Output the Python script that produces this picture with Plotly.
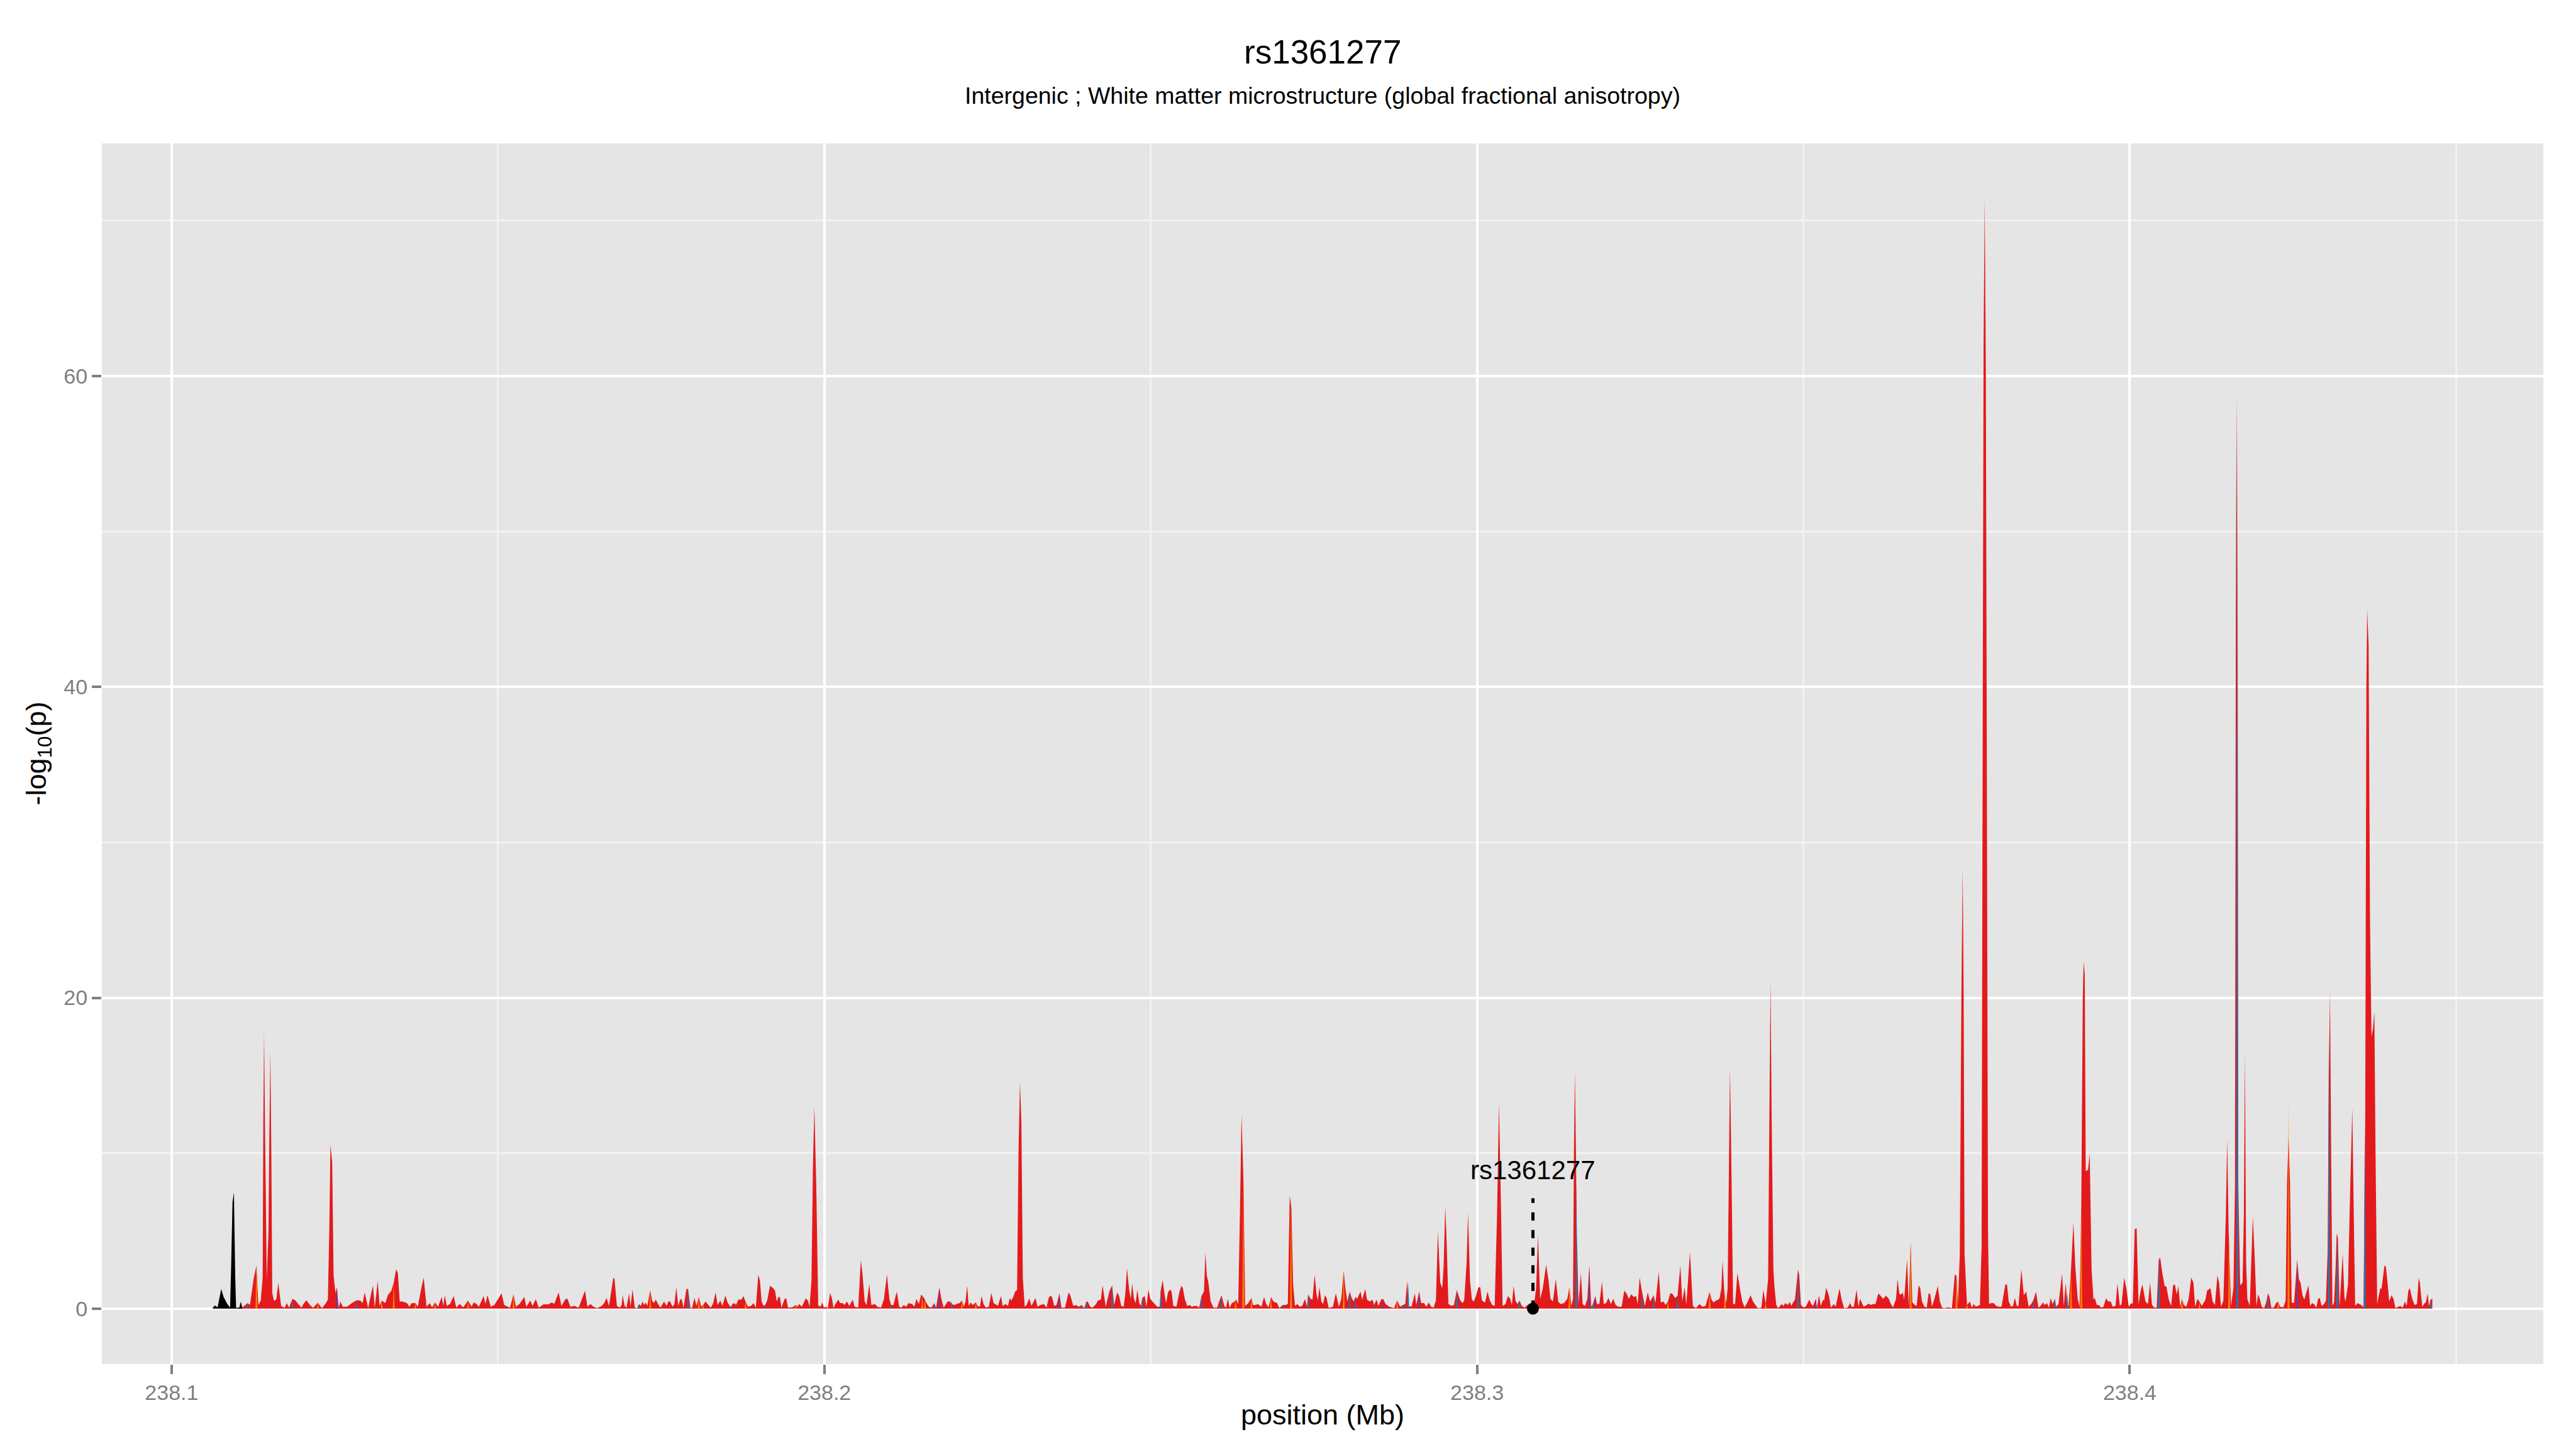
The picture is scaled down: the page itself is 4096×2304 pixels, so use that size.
import plotly.graph_objects as go

title_text = "rs1361277"
subtitle_text = "Intergenic ; White matter microstructure (global fractional anisotropy)"
x_title = "position (Mb)"
y_title = "-log<sub>10</sub>(p)"

x_ticks = [238.1, 238.2, 238.3, 238.4]
x_tick_labels = ["238.1", "238.2", "238.3", "238.4"]
x_minor = [238.15, 238.25, 238.35, 238.45]
y_ticks = [0, 20, 40, 60]
y_tick_labels = ["0", "20", "40", "60"]
y_minor = [10, 30, 50, 70]

snp_name = "rs1361277"
snp_pos = 238.30856
snp_label_y = 8.9
snp_line_top = 7.1

# (position Mb, -log10 p)
black_points = [
    (238.10632, 0.06), (238.10661, 0.20), (238.10705, 0.08), (238.10760, 1.27), (238.10797, 0.75),
    (238.10852, 0.30), (238.10896, 0.06), (238.10911, 2.50), (238.10933, 6.85), (238.10955, 7.48),
    (238.10975, 2.00), (238.10988, 0.05), (238.11036, 0.05), (238.11061, 0.46), (238.11083, 0.02),
]

red_points = [
    (238.11000, 0.05), (238.11091, 0.10), (238.11164, 0.35), (238.11201, 0.23), (238.11256, 1.90),
    (238.11300, 2.76), (238.11329, 0.23), (238.11366, 0.52), (238.11395, 2.00), (238.11405, 12.0),
    (238.11417, 17.8), (238.11430, 12.0), (238.11458, 1.84), (238.11484, 5.00), (238.11500, 12.0),
    (238.11513, 16.5), (238.11528, 10.0), (238.11542, 1.00), (238.11568, 0.50), (238.11605, 0.60),
    (238.11634, 1.67), (238.11678, 0.17), (238.11733, 0.05), (238.11763, 0.35), (238.11799, 0.06),
    (238.11851, 0.63), (238.11898, 0.52), (238.11953, 0.23), (238.11990, 0.06), (238.12020, 0.29),
    (238.12064, 0.54), (238.12119, 0.23), (238.12166, 0.05), (238.12240, 0.38), (238.12302, 0.03),
    (238.12357, 0.30), (238.12394, 0.58), (238.12416, 5.00), (238.12434, 10.54), (238.12460, 9.40),
    (238.12482, 2.13), (238.12511, 1.00), (238.12533, 1.38), (238.12559, 0.05), (238.12585, 0.46),
    (238.12622, 0.12), (238.12688, 0.12), (238.12761, 0.35), (238.12834, 0.54), (238.12890, 0.52),
    (238.12926, 0.35), (238.12959, 1.04), (238.13011, 0.03), (238.13084, 1.50), (238.13113, 0.06),
    (238.13158, 1.78), (238.13187, 0.17), (238.13220, 0.52), (238.13275, 0.35), (238.13312, 0.86),
    (238.13367, 1.15), (238.13403, 1.67), (238.13440, 2.53), (238.13466, 2.30), (238.13495, 0.46),
    (238.13539, 0.46), (238.13605, 0.35), (238.13642, 0.12), (238.13679, 0.35), (238.13734, 0.35),
    (238.13771, 0.12), (238.13826, 1.32), (238.13862, 2.00), (238.13906, 0.12), (238.13954, 0.35),
    (238.13991, 0.08), (238.14035, 0.40), (238.14083, 0.12), (238.14138, 0.75), (238.14163, 0.17),
    (238.14185, 0.86), (238.14215, 0.17), (238.14266, 0.30), (238.14321, 0.81), (238.14362, 0.06),
    (238.14413, 0.30), (238.14468, 0.08), (238.14542, 0.52), (238.14597, 0.12), (238.14626, 0.40),
    (238.14670, 0.30), (238.14707, 0.12), (238.14780, 0.81), (238.14809, 0.30), (238.14839, 0.86),
    (238.14890, 0.12), (238.14945, 0.23), (238.15055, 0.98), (238.15096, 0.23), (238.15184, 0.05),
    (238.15239, 0.92), (238.15276, 0.12), (238.15331, 0.30), (238.15404, 0.75), (238.15434, 0.12),
    (238.15496, 0.52), (238.15529, 0.17), (238.15580, 0.61), (238.15624, 0.06), (238.15698, 0.27),
    (238.15771, 0.27), (238.15826, 0.40), (238.15863, 0.30), (238.15929, 1.04), (238.15973, 0.17),
    (238.16036, 0.63), (238.16065, 0.63), (238.16109, 0.12), (238.16175, 0.17), (238.16230, 0.06),
    (238.16242, 0.12), (238.16334, 1.15), (238.16371, 0.12), (238.16418, 0.29), (238.16462, 0.12),
    (238.16517, 0.03), (238.16591, 0.17), (238.16628, 0.35), (238.16664, 0.69), (238.16701, 0.17),
    (238.16767, 1.98), (238.16785, 1.92), (238.16822, 0.17), (238.16866, 0.06), (238.16895, 0.23),
    (238.16910, 0.86), (238.16940, 0.17), (238.16969, 0.06), (238.17009, 0.98), (238.17031, 0.12),
    (238.17061, 1.24), (238.17097, 0.06), (238.17134, 0.03), (238.17160, 0.29), (238.17189, 0.17),
    (238.17215, 0.46), (238.17241, 0.23), (238.17263, 0.40), (238.17288, 0.17), (238.17332, 1.17),
    (238.17362, 0.52), (238.17387, 0.35), (238.17417, 0.58), (238.17453, 0.29), (238.17490, 0.06),
    (238.17545, 0.46), (238.17582, 0.17), (238.17611, 0.46), (238.17637, 0.46), (238.17674, 0.12),
    (238.17703, 0.29), (238.17732, 1.38), (238.17762, 0.17), (238.17791, 0.58), (238.17813, 0.63),
    (238.17843, 0.06), (238.17887, 1.27), (238.17912, 1.27), (238.17949, 0.03), (238.17975, 0.06),
    (238.18011, 0.69), (238.18041, 0.17), (238.18078, 0.75), (238.18114, 0.12), (238.18144, 0.23),
    (238.18180, 0.46), (238.18224, 0.23), (238.18261, 0.06), (238.18298, 0.35), (238.18335, 1.04),
    (238.18364, 0.23), (238.18408, 0.52), (238.18437, 0.17), (238.18485, 0.83), (238.18518, 0.40),
    (238.18566, 0.06), (238.18591, 0.29), (238.18621, 0.35), (238.18647, 0.23), (238.18683, 0.58),
    (238.18731, 0.58), (238.18760, 0.81), (238.18793, 0.46), (238.18830, 0.12), (238.18878, 0.17),
    (238.18915, 0.35), (238.18951, 0.06), (238.18988, 2.19), (238.19014, 1.78), (238.19039, 0.46),
    (238.19069, 0.17), (238.19094, 0.23), (238.19124, 0.52), (238.19168, 1.47), (238.19216, 1.32),
    (238.19245, 1.15), (238.19271, 0.46), (238.19296, 0.75), (238.19318, 0.75), (238.19344, 0.06),
    (238.19392, 0.63), (238.19417, 0.66), (238.19443, 0.06), (238.19509, 0.08), (238.19564, 0.23),
    (238.19590, 0.12), (238.19612, 0.29), (238.19656, 0.12), (238.19715, 0.66), (238.19748, 0.52),
    (238.19774, 0.12), (238.19803, 1.78), (238.19825, 9.00), (238.19847, 13.0), (238.19876, 8.00),
    (238.19906, 0.20), (238.19942, 0.12), (238.19968, 0.40), (238.19994, 0.06), (238.20023, 0.12),
    (238.20053, 0.03), (238.20089, 1.00), (238.20115, 0.69), (238.20141, 0.03), (238.20170, 0.29),
    (238.20214, 0.58), (238.20243, 0.35), (238.20280, 0.35), (238.20310, 0.23), (238.20346, 0.46),
    (238.20383, 0.17), (238.20434, 0.58), (238.20464, 0.12), (238.20519, 0.06), (238.20559, 3.11),
    (238.20585, 2.23), (238.20618, 0.46), (238.20647, 0.23), (238.20688, 1.58), (238.20721, 0.23),
    (238.20776, 0.29), (238.20812, 0.12), (238.20868, 0.06), (238.20912, 0.58), (238.20959, 2.19),
    (238.20996, 0.63), (238.21022, 0.23), (238.21058, 0.23), (238.21110, 1.09), (238.21147, 0.12),
    (238.21180, 0.06), (238.21216, 0.23), (238.21253, 0.12), (238.21290, 0.35), (238.21345, 0.29),
    (238.21381, 0.12), (238.21411, 0.63), (238.21448, 0.29), (238.21484, 0.90), (238.21528, 0.69),
    (238.21565, 0.35), (238.21602, 0.12), (238.21638, 0.06), (238.21686, 0.35), (238.21712, 0.06),
    (238.21763, 1.36), (238.21793, 0.63), (238.21829, 0.06), (238.21888, 0.46), (238.21925, 0.46),
    (238.21950, 0.29), (238.21987, 0.23),
    (238.22071, 0.35), (238.22108, 0.52), (238.22138, 0.12), (238.22163, 0.46), (238.22189, 1.47),
    (238.22211, 0.17), (238.22240, 0.40), (238.22273, 0.23), (238.22321, 0.40), (238.22347, 0.17),
    (238.22384, 0.12), (238.22409, 0.81), (238.22439, 0.29), (238.22475, 0.06), (238.22519, 0.12),
    (238.22560, 1.01), (238.22593, 0.35), (238.22640, 0.23), (238.22659, 0.17), (238.22707, 0.81),
    (238.22732, 0.17), (238.22776, 0.29), (238.22813, 0.17), (238.22842, 0.69), (238.22864, 0.52),
    (238.22894, 0.75), (238.22923, 1.09), (238.22953, 1.20), (238.22975, 10.0), (238.22997, 14.6),
    (238.23019, 12.0), (238.23041, 2.00), (238.23070, 0.12), (238.23099, 0.23), (238.23140, 0.66),
    (238.23173, 0.17), (238.23235, 0.69), (238.23265, 0.12), (238.23312, 0.23), (238.23364, 0.29),
    (238.23404, 0.06), (238.23437, 0.69), (238.23466, 0.84), (238.23488, 0.75), (238.23522, 0.17),
    (238.23558, 0.23), (238.23602, 0.98), (238.23632, 0.06), (238.23687, 0.06), (238.23742, 1.04),
    (238.23767, 0.86), (238.23815, 0.17), (238.23852, 0.23), (238.23900, 0.12), (238.23944, 0.23),
    (238.23980, 0.03), (238.24017, 0.46), (238.24035, 0.46), (238.24072, 0.12), (238.24109, 0.06),
    (238.24164, 0.29), (238.24190, 0.52), (238.24237, 0.58), (238.24263, 1.50), (238.24311, 0.12),
    (238.24366, 1.09), (238.24410, 1.50), (238.24439, 0.23), (238.24487, 1.04), (238.24516, 0.81),
    (238.24549, 0.17), (238.24586, 0.12), (238.24612, 0.98), (238.24637, 2.59), (238.24671, 1.15),
    (238.24696, 0.63), (238.24715, 1.61), (238.24744, 0.63), (238.24770, 0.35), (238.24795, 1.21),
    (238.24825, 0.35), (238.24850, 0.17), (238.24872, 0.69), (238.24909, 0.81), (238.24935, 0.12),
    (238.24964, 1.23), (238.24994, 0.63), (238.25027, 0.46), (238.25063, 0.29), (238.25100, 0.12),
    (238.25137, 0.12), (238.25155, 1.21), (238.25184, 1.84), (238.25214, 0.86), (238.25236, 0.35),
    (238.25265, 1.04), (238.25295, 1.23), (238.25320, 1.09), (238.25346, 0.17), (238.25394, 0.12),
    (238.25441, 1.09), (238.25471, 1.47), (238.25493, 1.32), (238.25522, 0.63), (238.25559, 0.17),
    (238.25596, 0.23), (238.25632, 0.12), (238.25669, 0.17), (238.25706, 0.17), (238.25742, 0.06),
    (238.25779, 0.81), (238.25816, 1.09), (238.25838, 3.57), (238.25860, 2.11), (238.25882, 1.73),
    (238.25919, 0.46), (238.25963, 0.06), (238.26018, 0.06), (238.26055, 0.52), (238.26084, 0.86),
    (238.26128, 0.17), (238.26154, 0.06), (238.26183, 0.63), (238.26209, 0.06), (238.26245, 0.35),
    (238.26286, 0.46), (238.26311, 0.58), (238.26341, 0.29), (238.26367, 6.00), (238.26392, 12.5),
    (238.26422, 8.00), (238.26447, 0.17), (238.26495, 0.35), (238.26543, 0.69), (238.26568, 0.23),
    (238.26605, 0.23), (238.26642, 0.29), (238.26697, 0.12), (238.26737, 0.75), (238.26770, 0.29),
    (238.26807, 0.08), (238.26844, 0.75), (238.26880, 0.46), (238.26936, 0.35), (238.26972, 0.03),
    (238.27020, 0.23), (238.27064, 0.23), (238.27101, 0.29), (238.27130, 7.25), (238.27156, 6.50),
    (238.27182, 1.55), (238.27211, 0.17), (238.27248, 0.29), (238.27284, 0.12), (238.27321, 0.17),
    (238.27365, 0.63), (238.27394, 0.12), (238.27413, 0.92), (238.27449, 0.63), (238.27479, 0.58),
    (238.27512, 2.19), (238.27541, 0.92), (238.27560, 0.52), (238.27585, 1.38), (238.27615, 0.46),
    (238.27640, 0.29), (238.27670, 0.86), (238.27695, 0.69), (238.27725, 0.06),
    (238.27755, 0.06), (238.27792, 0.12), (238.27836, 0.98), (238.27884, 0.12), (238.27920, 0.63),
    (238.27957, 2.42), (238.27983, 1.32), (238.28012, 0.46), (238.28049, 1.09), (238.28078, 0.69),
    (238.28111, 0.46), (238.28137, 0.75), (238.28166, 0.63), (238.28188, 0.86), (238.28214, 1.09),
    (238.28240, 0.58), (238.28287, 1.27), (238.28313, 0.58), (238.28361, 0.46), (238.28397, 0.58),
    (238.28423, 0.23), (238.28460, 0.58), (238.28489, 0.17), (238.28533, 0.61), (238.28563, 0.61),
    (238.28599, 0.29), (238.28654, 0.12), (238.28728, 0.03), (238.28776, 0.52), (238.28820, 0.12),
    (238.28864, 0.23), (238.28900, 0.29), (238.28930, 1.78), (238.28952, 0.17), (238.28996, 0.12),
    (238.29047, 0.98), (238.29069, 0.23), (238.29113, 1.09), (238.29143, 0.35), (238.29187, 0.35),
    (238.29223, 0.12), (238.29260, 0.40), (238.29297, 0.12), (238.29334, 0.06), (238.29370, 0.52),
    (238.29400, 4.95), (238.29436, 1.67), (238.29466, 1.32), (238.29488, 2.71), (238.29513, 6.56),
    (238.29535, 4.20), (238.29561, 0.29), (238.29609, 0.17), (238.29646, 0.23), (238.29690, 1.19),
    (238.29737, 0.58), (238.29774, 0.35), (238.29803, 0.52), (238.29840, 2.94), (238.29862, 6.16),
    (238.29892, 1.78), (238.29921, 0.58), (238.29950, 0.46), (238.29983, 0.81), (238.30020, 1.38),
    (238.30049, 1.38), (238.30075, 0.52), (238.30123, 0.40), (238.30160, 1.09), (238.30196, 0.52),
    (238.30233, 0.23), (238.30270, 0.17), (238.30306, 6.00), (238.30336, 13.2), (238.30369, 6.00),
    (238.30391, 0.17), (238.30435, 0.29), (238.30472, 0.81), (238.30508, 0.63), (238.30534, 0.23),
    (238.30560, 1.47), (238.30589, 0.52), (238.30618, 0.29), (238.30651, 0.52), (238.30685, 0.17),
    (238.30729, 0.06), (238.30773, 0.23), (238.30809, 0.29), (238.30839, 0.17), (238.30875, 0.30),
    (238.30905, 1.32), (238.30934, 4.72), (238.30967, 0.63), (238.31004, 1.21), (238.31059, 2.82),
    (238.31096, 1.78), (238.31125, 0.63), (238.31162, 0.46), (238.31206, 1.90), (238.31243, 0.46),
    (238.31279, 0.29), (238.31334, 0.35), (238.31382, 0.63), (238.31415, 1.36), (238.31444, 0.17),
    (238.31470, 0.63), (238.31484, 10.0), (238.31499, 15.2), (238.31515, 10.0), (238.31529, 4.80),
    (238.31555, 0.29), (238.31591, 2.30), (238.31617, 0.29), (238.31654, 0.17), (238.31690, 0.63),
    (238.31720, 2.76), (238.31749, 0.12), (238.31775, 0.29), (238.31811, 0.81), (238.31837, 0.29),
    (238.31874, 0.29), (238.31914, 1.73), (238.31940, 0.29), (238.31977, 0.35), (238.32013, 0.69),
    (238.32050, 0.29), (238.32087, 0.63), (238.32123, 0.23), (238.32160, 0.12), (238.32215, 0.12),
    (238.32256, 1.15), (238.32289, 0.98), (238.32325, 0.63), (238.32362, 0.92), (238.32399, 0.75),
    (238.32436, 0.81), (238.32461, 0.29), (238.32491, 2.00), (238.32527, 1.09), (238.32571, 0.17),
    (238.32615, 1.04), (238.32652, 0.46), (238.32704, 0.86), (238.32733, 0.35), (238.32784, 2.36),
    (238.32814, 0.40), (238.32858, 0.46), (238.32887, 0.23), (238.32924, 0.46), (238.32961, 0.98),
    (238.32986, 0.98), (238.33034, 0.69), (238.33071, 0.81), (238.33115, 2.76), (238.33144, 0.46),
    (238.33181, 1.38), (238.33206, 0.23), (238.33262, 3.63), (238.33306, 0.17), (238.33353, 0.03),
    (238.33408, 0.29), (238.33452, 0.12), (238.33500, 0.17),
    (238.33563, 1.07), (238.33593, 0.58), (238.33622, 0.40), (238.33659, 0.52), (238.33696, 0.58),
    (238.33718, 0.69), (238.33743, 1.32), (238.33762, 3.11), (238.33784, 1.32), (238.33798, 0.12),
    (238.33824, 0.63), (238.33839, 1.32), (238.33861, 10.0), (238.33875, 15.5), (238.33894, 10.0),
    (238.33923, 0.29), (238.33953, 0.29), (238.33989, 2.30), (238.34026, 1.32), (238.34063, 0.46),
    (238.34099, 0.08), (238.34136, 0.35), (238.34191, 0.86), (238.34228, 0.46), (238.34265, 0.23),
    (238.34301, 0.03), (238.34356, 0.06), (238.34386, 1.21), (238.34422, 0.29), (238.34459, 1.90),
    (238.34478, 12.0), (238.34496, 21.1), (238.34514, 12.0), (238.34540, 2.50), (238.34558, 1.32),
    (238.34584, 0.23), (238.34613, 0.03), (238.34668, 0.29), (238.34694, 0.17), (238.34723, 0.35),
    (238.34760, 0.23), (238.34790, 0.43), (238.34815, 0.17), (238.34841, 0.40), (238.34870, 0.58),
    (238.34918, 2.53), (238.34936, 2.13), (238.34962, 0.23), (238.34999, 0.08), (238.35036, 0.12),
    (238.35091, 0.58), (238.35120, 0.29), (238.35146, 0.17), (238.35190, 0.63), (238.35208, 0.03),
    (238.35237, 0.86), (238.35267, 0.17), (238.35300, 0.58), (238.35318, 0.52), (238.35348, 1.35),
    (238.35392, 0.81), (238.35421, 0.06), (238.35465, 0.29), (238.35494, 0.12), (238.35553, 1.30),
    (238.35586, 0.58), (238.35623, 0.03), (238.35678, 0.06), (238.35715, 0.35), (238.35740, 0.12),
    (238.35773, 0.12), (238.35814, 1.21), (238.35843, 0.12), (238.35869, 0.63), (238.35898, 0.35),
    (238.35924, 0.12), (238.35972, 0.23), (238.36001, 0.32), (238.36030, 0.23), (238.36067, 0.29),
    (238.36104, 0.29), (238.36148, 0.98), (238.36185, 0.81), (238.36221, 0.63), (238.36265, 0.83),
    (238.36309, 0.63), (238.36339, 0.29), (238.36375, 0.08), (238.36419, 0.63), (238.36442, 1.90),
    (238.36471, 0.92), (238.36504, 0.92), (238.36522, 1.04), (238.36544, 0.58), (238.36588, 3.19),
    (238.36614, 0.12), (238.36643, 4.26), (238.36669, 0.40), (238.36706, 0.23), (238.36735, 0.17),
    (238.36765, 1.50), (238.36790, 1.32), (238.36816, 0.46), (238.36853, 0.12), (238.36889, 0.06),
    (238.36919, 1.00), (238.36944, 0.92), (238.36970, 0.12), (238.37007, 0.63), (238.37058, 1.46),
    (238.37091, 0.46), (238.37124, 0.06), (238.37165, 0.03), (238.37220, 0.08), (238.37275, 0.03),
    (238.37319, 2.19), (238.37345, 2.13), (238.37367, 0.29), (238.37396, 3.50), (238.37420, 20.0),
    (238.37440, 28.3), (238.37455, 20.0), (238.37469, 3.50), (238.37506, 0.23), (238.37550, 0.46),
    (238.37580, 0.06), (238.37609, 0.29), (238.37642, 0.12), (238.37668, 0.17), (238.37704, 0.23),
    (238.37730, 4.00), (238.37748, 40.0), (238.37760, 62.0), (238.37778, 71.4), (238.37795, 60.0),
    (238.37810, 35.0), (238.37828, 5.00), (238.37844, 0.29), (238.37881, 0.35), (238.37917, 0.35),
    (238.37954, 0.17), (238.37991, 0.12), (238.38035, 0.12), (238.38093, 1.55), (238.38119, 1.55),
    (238.38145, 0.46), (238.38182, 0.12), (238.38211, 0.17), (238.38240, 0.69), (238.38270, 0.17),
    (238.38295, 0.17), (238.38339, 2.53), (238.38376, 0.86), (238.38413, 1.09), (238.38450, 0.12),
    (238.38490, 0.29), (238.38527, 0.58), (238.38563, 1.09), (238.38600, 0.06), (238.38633, 0.17),
    (238.38670, 0.40), (238.38696, 0.23), (238.38732, 0.35), (238.38762, 0.06), (238.38787, 0.69),
    (238.38817, 0.29), (238.38853, 0.63), (238.38872, 0.12), (238.38908, 0.29), (238.38963, 2.25),
    (238.38989, 0.17), (238.39019, 1.67), (238.39044, 0.17), (238.39063, 0.17), (238.39099, 2.47),
    (238.39136, 5.53), (238.39165, 2.71), (238.39202, 0.63), (238.39231, 0.12), (238.39257, 6.70),
    (238.39280, 20.0), (238.39293, 22.3), (238.39310, 21.5), (238.39325, 8.80),
    (238.39341, 8.90), (238.39360, 8.90), (238.39386, 9.96), (238.39415, 2.50), (238.39444, 0.58),
    (238.39463, 0.69), (238.39496, 0.23), (238.39525, 0.23), (238.39562, 0.06), (238.39598, 0.12),
    (238.39635, 0.66), (238.39672, 0.46), (238.39709, 0.46), (238.39738, 0.12), (238.39782, 0.17),
    (238.39811, 1.61), (238.39848, 0.17), (238.39874, 0.29), (238.39914, 1.98), (238.39947, 1.32),
    (238.39984, 0.12), (238.40021, 0.35), (238.40046, 0.29), (238.40076, 5.10), (238.40105, 5.18),
    (238.40134, 0.29), (238.40167, 1.15), (238.40193, 1.55), (238.40241, 0.46), (238.40278, 0.29),
    (238.40311, 1.67), (238.40340, 0.23), (238.40377, 0.06), (238.40413, 0.06), (238.40443, 3.11),
    (238.40465, 3.30), (238.40498, 2.30), (238.40535, 1.44), (238.40560, 1.44), (238.40597, 0.58),
    (238.40634, 0.17), (238.40663, 1.50), (238.40692, 1.55), (238.40718, 0.92), (238.40744, 1.44),
    (238.40773, 0.12), (238.40799, 0.63), (238.40828, 0.23), (238.40865, 0.12), (238.40902, 0.63),
    (238.40942, 2.00), (238.40975, 1.67), (238.41001, 0.12), (238.41037, 0.63), (238.41067, 0.46),
    (238.41104, 0.17), (238.41159, 0.58), (238.41184, 1.15), (238.41236, 1.32), (238.41269, 0.46),
    (238.41305, 0.23), (238.41342, 2.13), (238.41368, 1.67), (238.41397, 0.12), (238.41434, 0.52),
    (238.41471, 5.90), (238.41493, 10.9), (238.41515, 4.80), (238.41551, 0.17), (238.41588, 1.32),
    (238.41612, 8.00), (238.41625, 45.0), (238.41636, 58.8), (238.41648, 45.0), (238.41662, 8.00),
    (238.41691, 1.50), (238.41728, 1.67), (238.41748, 6.00), (238.41764, 16.5), (238.41782, 3.00),
    (238.41801, 0.63), (238.41838, 0.17), (238.41885, 5.90), (238.41911, 3.60), (238.41941, 0.17),
    (238.41966, 0.92), (238.41992, 0.63), (238.42021, 0.12), (238.42058, 0.03), (238.42087, 0.35),
    (238.42117, 0.98), (238.42142, 0.75), (238.42168, 0.06), (238.42205, 0.06), (238.42242, 0.35),
    (238.42271, 0.46), (238.42300, 0.12), (238.42352, 0.08), (238.42388, 0.52), (238.42410, 8.20),
    (238.42432, 11.0), (238.42454, 8.20), (238.42480, 0.40), (238.42517, 0.35), (238.42565, 3.17),
    (238.42590, 1.90), (238.42616, 1.67), (238.42645, 0.86), (238.42675, 0.58), (238.42700, 0.98),
    (238.42737, 1.50), (238.42763, 0.17), (238.42792, 0.35), (238.42822, 0.29), (238.42858, 0.06),
    (238.42884, 0.63), (238.42910, 0.69), (238.42939, 0.17), (238.42976, 0.29), (238.43005, 0.52),
    (238.43031, 3.60), (238.43050, 15.0), (238.43068, 20.4), (238.43085, 10.0), (238.43104, 0.17),
    (238.43130, 0.40), (238.43152, 2.48), (238.43170, 4.84), (238.43189, 4.55), (238.43214, 0.12),
    (238.43262, 3.51), (238.43288, 0.75), (238.43306, 0.46), (238.43343, 1.55), (238.43380, 8.20),
    (238.43409, 12.9), (238.43435, 5.00), (238.43453, 0.17), (238.43490, 0.35), (238.43545, 0.23),
    (238.43581, 0.10), (238.43607, 12.0), (238.43625, 40.0), (238.43637, 45.0), (238.43659, 42.6),
    (238.43680, 25.0), (238.43703, 17.5), (238.43725, 18.0), (238.43747, 19.1), (238.43765, 10.0),
    (238.43790, 0.30), (238.43838, 1.32), (238.43857, 1.27), (238.43901, 2.76), (238.43923, 2.71),
    (238.43949, 1.67), (238.43974, 0.46), (238.44011, 0.86), (238.44040, 0.63), (238.44070, 0.03),
    (238.44114, 0.12), (238.44143, 0.17), (238.44180, 0.06), (238.44217, 0.46), (238.44242, 0.17),
    (238.44268, 1.15), (238.44290, 1.32), (238.44327, 0.63), (238.44363, 0.23), (238.44400, 0.29),
    (238.44426, 1.98), (238.44444, 1.67), (238.44481, 0.12), (238.44518, 0.35), (238.44536, 0.40),
    (238.44562, 0.98), (238.44584, 0.17), (238.44609, 0.58), (238.44635, 0.63),
]

orange_points = [
    (238.11300, 2.76), (238.12240, 0.38), (238.13220, 0.52), (238.13403, 1.67), (238.13734, 0.35),
    (238.14035, 0.35), (238.14542, 0.52), (238.15239, 0.92), (238.16271, 0.10), (238.17332, 1.17),
    (238.18078, 0.75), (238.18144, 0.25), (238.18793, 0.46), (238.19564, 0.23), (238.21500, 0.90),
    (238.21540, 0.65), (238.22108, 0.52), (238.22321, 0.40), (238.26300, 0.58), (238.26418, 8.00),
    (238.26543, 0.69), (238.26844, 0.75), (238.27150, 7.25), (238.27957, 2.42), (238.28776, 0.52),
    (238.31415, 1.36), (238.32924, 0.46), (238.33563, 1.07), (238.33798, 1.30), (238.34422, 0.40),
    (238.36643, 4.26), (238.37345, 2.13), (238.37506, 0.25), (238.39099, 2.47), (238.39257, 6.70),
    (238.40799, 0.63), (238.41067, 0.46), (238.41522, 5.00), (238.42271, 0.46), (238.42432, 13.3),
]

blue_points = [
    (238.11164, 0.35), (238.11851, 0.63), (238.12834, 0.54), (238.17160, 0.29), (238.17912, 1.27),
    (238.18566, 0.20), (238.19094, 0.23), (238.21022, 0.23), (238.21686, 0.35), (238.21950, 0.50),
    (238.23944, 0.23), (238.24017, 0.46), (238.24410, 1.50), (238.24872, 0.69), (238.25155, 1.21),
    (238.25779, 0.81), (238.26084, 0.86), (238.27020, 0.23), (238.27413, 0.92), (238.28049, 1.09),
    (238.28137, 0.75), (238.28423, 0.23), (238.28864, 0.23), (238.28945, 1.70), (238.29690, 1.19),
    (238.30651, 0.52), (238.31521, 8.00), (238.32527, 1.09), (238.32704, 0.86), (238.33071, 0.81),
    (238.34918, 2.53), (238.38527, 0.58), (238.38853, 0.63), (238.39044, 1.00), (238.40450, 3.30),
    (238.41650, 57.0), (238.42117, 0.98), (238.43050, 18.0), (238.43178, 4.84), (238.43600, 12.0),
    (238.44609, 0.58),
]

purple_points = [
    (238.12533, 1.38), (238.21763, 1.36), (238.23602, 0.98), (238.28563, 0.61), (238.29113, 1.09),
    (238.31720, 2.76), (238.31811, 0.81), (238.35190, 0.63), (238.42565, 3.17),
]

green_points = [(238.31775, 0.30)]

RED = "#E31A1C"
ORANGE = "#FF7F00"
BLUE = "#1F78B4"
PURPLE = "#6A3D9A"
GREEN = "#33A02C"
BLACK = "#000000"
FONT = "Liberation Sans, Arial, Helvetica, sans-serif"
HALF_W = 0.00015


def area_trace(points, color):
    return go.Scatter(
        x=[p for p, _ in points], y=[v for _, v in points],
        mode="none", fill="tozeroy", fillcolor=color, hoverinfo="skip",
    )


def spike_trace(points, color):
    xs, ys = [], []
    for p, v in points:
        xs += [p - HALF_W, p, p + HALF_W, None]
        ys += [0, v, 0, None]
    return go.Scatter(x=xs, y=ys, mode="none", fill="toself", fillcolor=color,
                      hoverinfo="skip", connectgaps=False)


fig = go.Figure()
fig.add_trace(area_trace(red_points, RED))
fig.add_trace(area_trace(black_points, BLACK))
for pts, col in [(orange_points, ORANGE), (blue_points, BLUE), (purple_points, PURPLE), (green_points, GREEN)]:
    fig.add_trace(spike_trace(pts, col))

# SNP marker
fig.add_trace(go.Scatter(x=[snp_pos, snp_pos], y=[0, snp_line_top], mode="lines",
                         line=dict(color="black", width=5, dash="13px,15px"), hoverinfo="skip"))
fig.add_trace(go.Scatter(x=[snp_pos], y=[0], mode="markers",
                         marker=dict(color="black", size=19), hoverinfo="skip"))

all_x = [p for p, _ in black_points + red_points]
all_y = [v for _, v in red_points + black_points]
xmin, xmax = min(all_x), max(all_x)
ymin, ymax = 0.0, max(all_y)
xpad = 0.05 * (xmax - xmin)
ypad = 0.05 * (ymax - ymin)

L, R, T, B = 162, 52, 228, 135
W, H = 4096, 2304
plot_h = H - T - B
plot_w = W - L - R

fig.update_layout(
    width=W, height=H,
    margin=dict(l=L, r=R, t=T, b=B, pad=0),
    paper_bgcolor="white", plot_bgcolor="#E5E5E5",
    showlegend=False,
    font=dict(family=FONT, color="black"),
    annotations=[
        dict(text=title_text, x=0.5, y=1 + (T - 83) / plot_h, xref="paper", yref="paper",
             showarrow=False, xanchor="center", yanchor="middle", font=dict(size=53, color="black")),
        dict(text=subtitle_text, x=0.5, y=1 + (T - 152) / plot_h, xref="paper", yref="paper",
             showarrow=False, xanchor="center", yanchor="middle", font=dict(size=37.5, color="black")),
        dict(text=x_title, x=0.5, y=-(2249 - (H - B)) / plot_h, xref="paper", yref="paper",
             showarrow=False, xanchor="center", yanchor="middle", font=dict(size=45, color="black")),
        dict(text=y_title, x=-(L - 60) / plot_w, y=0.5, xref="paper", yref="paper", textangle=-90,
             showarrow=False, xanchor="center", yanchor="middle", font=dict(size=45, color="black")),
        dict(text=snp_name, x=snp_pos, y=snp_label_y, xref="x", yref="y", showarrow=False,
             xanchor="center", yanchor="middle", font=dict(size=42, color="black")),
    ],
)

axis_common = dict(
    showgrid=True, gridcolor="white", gridwidth=4.3, zeroline=False, showline=False,
    ticks="outside", ticklen=15, tickwidth=4, tickcolor="#7F7F7F",
    tickfont=dict(size=34, color="#7F7F7F", family=FONT), tickmode="array",
)
fig.update_xaxes(range=[xmin - xpad, xmax + xpad], tickvals=x_ticks, ticktext=x_tick_labels,
                 minor=dict(tickmode="array", tickvals=x_minor, showgrid=True,
                            gridcolor="#F2F2F2", gridwidth=2.5, ticks=""),
                 **axis_common)
fig.update_yaxes(range=[ymin - ypad, ymax + ypad], tickvals=y_ticks, ticktext=y_tick_labels,
                 minor=dict(tickmode="array", tickvals=y_minor, showgrid=True,
                            gridcolor="#F2F2F2", gridwidth=2.5, ticks=""),
                 **axis_common)

fig.write_html("out.html", config={"displayModeBar": False},
               post_script="document.body.style.margin='0';document.body.style.overflow='hidden';")
